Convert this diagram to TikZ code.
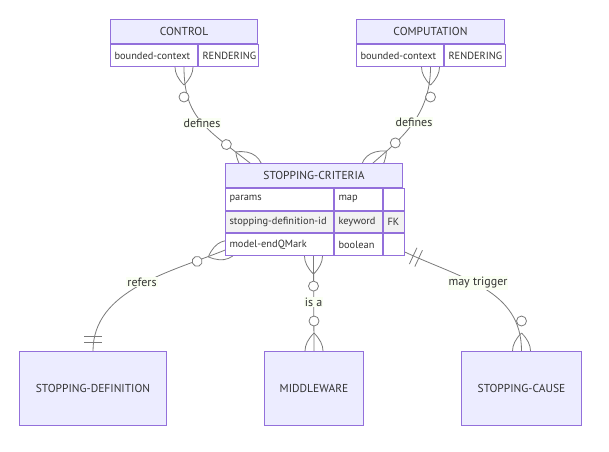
\documentclass[tikz,border=0pt]{standalone}
\usepackage{fontspec}
\setmainfont{PT Sans}
\usetikzlibrary{backgrounds}

\definecolor{erfill}{HTML}{ECECFF}
\definecolor{erline}{HTML}{9370DB}
\definecolor{erodd}{HTML}{FFFFFF}
\definecolor{ereven}{HTML}{F2F2F2}
\definecolor{relline}{HTML}{7A7A7A}
\definecolor{ertext}{HTML}{333333}
\definecolor{labelbg}{RGB}{250,255,243}

\tikzset{
    entity/.style={draw=erline, fill=erfill, line width=1pt, text=ertext, font=\fontsize{11.5}{13}\selectfont, inner sep=0pt, anchor=north west},
    attr/.style={draw=erline, fill=erodd, line width=1pt, text=ertext, font=\fontsize{10.4}{12}\selectfont, inner xsep=4pt, inner ysep=0pt, align=left, anchor=north west},
    rel/.style={draw=relline, line width=0.8pt},
    rellabel/.style={fill=labelbg, text=ertext, font=\fontsize{12}{14}\selectfont, inner sep=1pt}
}

\newcommand{\zeroormany}[2]{%
    \begin{scope}[shift={(#1)}, rotate=#2]
        \draw[rel] (18,0) .. controls (12,6) and (6,9) .. (0,9) .. controls (-6,9) and (-12,6) .. (-18,0);
        \draw[rel] (18,0) .. controls (12,-6) and (6,-9) .. (0,-9) .. controls (-6,-9) and (-12,-6) .. (-18,0);
        \draw[rel, fill=white] (30,0) circle (5);
    \end{scope}}
\newcommand{\onlyone}[2]{%
    \begin{scope}[shift={(#1)}, rotate=#2]
        \draw[rel] (9,-9) -- (9,9) (15,-9) -- (15,9);
    \end{scope}}

\begin{document}
\begin{tikzpicture}[x=1pt, y=-1pt]

            \useasboundingbox (0,0) rectangle (609,451);

            \node[entity, minimum width=147pt, minimum height=24pt] (ctrl) at (110,19) {CONTROL};
            \node[attr, text width=79pt, minimum height=22pt] (ctrl-a) at (ctrl.south west) {bounded-context};
            \node[attr, text width=52pt, minimum height=22pt] (ctrl-b) at (ctrl-a.north east) {RENDERING};

            \node[entity, minimum width=148pt, minimum height=24pt] (comp) at (356,19) {COMPUTATION};
            \node[attr, text width=79pt, minimum height=22pt] (comp-a) at (comp.south west) {bounded-context};
            \node[attr, text width=53pt, minimum height=22pt] (comp-b) at (comp-a.north east) {RENDERING};

            \node[entity, minimum width=177pt, minimum height=24pt] (sc) at (225,163) {STOPPING-CRITERIA};
            \node[attr, text width=100pt, minimum height=21.7pt] (sc-r1a) at (sc.south west) {params};
            \node[attr, text width=40pt, minimum height=21.7pt] (sc-r1b) at (sc-r1a.north east) {map};
            \node[attr, text width=13pt, minimum height=21.7pt] (sc-r1c) at (sc-r1b.north east) {};
            \node[attr, fill=ereven, text width=100pt, minimum height=21.7pt] (sc-r2a) at (sc-r1a.south west) {stopping-definition-id};
            \node[attr, fill=ereven, text width=40pt, minimum height=21.7pt] (sc-r2b) at (sc-r2a.north east) {keyword};
            \node[attr, fill=ereven, text width=13pt, minimum height=21.7pt] (sc-r2c) at (sc-r2b.north east) {FK};
            \node[attr, text width=100pt, minimum height=21.7pt] (sc-r3a) at (sc-r2a.south west) {model-endQMark};
            \node[attr, text width=40pt, minimum height=21.7pt] (sc-r3b) at (sc-r3a.north east) {boolean};
            \node[attr, text width=13pt, minimum height=21.7pt] (sc-r3c) at (sc-r3b.north east) {};

            \node[entity, minimum width=147pt, minimum height=74pt] (sd) at (19,351) {STOPPING-DEFINITION};
            \node[entity, minimum width=99pt, minimum height=74pt] (mw) at (264,351) {MIDDLEWARE};
            \node[entity, minimum width=120pt, minimum height=74pt] (cause) at (461,351) {STOPPING-CAUSE};

            \coordinate (ctrl-sc) at (ctrl.south |- ctrl-a.south);
            \coordinate (comp-sc) at (comp.south |- comp-a.south);
            \coordinate (sc-ctrl) at ([xshift=25pt]sc.north west);
            \coordinate (sc-comp) at ([xshift=-30pt]sc.north east);
            \coordinate (sc-sd) at ([yshift=6pt]sc-r3a.south west);
            \coordinate (sc-mw) at ([xshift=88.5pt]sc-r3a.south west);
            \coordinate (sc-cause) at ([yshift=4pt]sc-r3c.south east);

            \begin{scope}[on background layer]
                \draw[rel] (ctrl-sc) .. controls +(0,50) and +(-45,-35) .. (sc-ctrl);
                \draw[rel] (comp-sc) .. controls +(0,50) and +(26,-23) .. (sc-comp);
                \draw[rel] (sc-sd) .. controls +(-55,22) and +(0,-61) .. (sd.north);
                \draw[rel] (sc-mw) -- (mw.north);
                \draw[rel] (sc-cause) .. controls +(58,27) and +(0,-61) .. (cause.north);

                \zeroormany{ctrl-sc}{-90}
                \zeroormany{sc-ctrl}{142}
                \zeroormany{comp-sc}{-90}
                \zeroormany{sc-comp}{42}
                \zeroormany{sc-sd}{202}
                \onlyone{sd.north}{90}
                \zeroormany{sc-mw}{-90}
                \zeroormany{mw.north}{90}
                \onlyone{sc-cause}{-25}
                \zeroormany{cause.north}{90}

                \node[rellabel] (lab-ctrl) at (202,123) {defines};
                \node[rellabel] (lab-comp) at (414,122) {defines};
                \node[rellabel] (lab-sd) at (142,282) {refers};
                \node[rellabel] (lab-mw) at (313.5,302) {is a};
                \node[rellabel] (lab-cause) at (478,283) {may trigger};
            \end{scope}

        \end{tikzpicture}
\end{document}
